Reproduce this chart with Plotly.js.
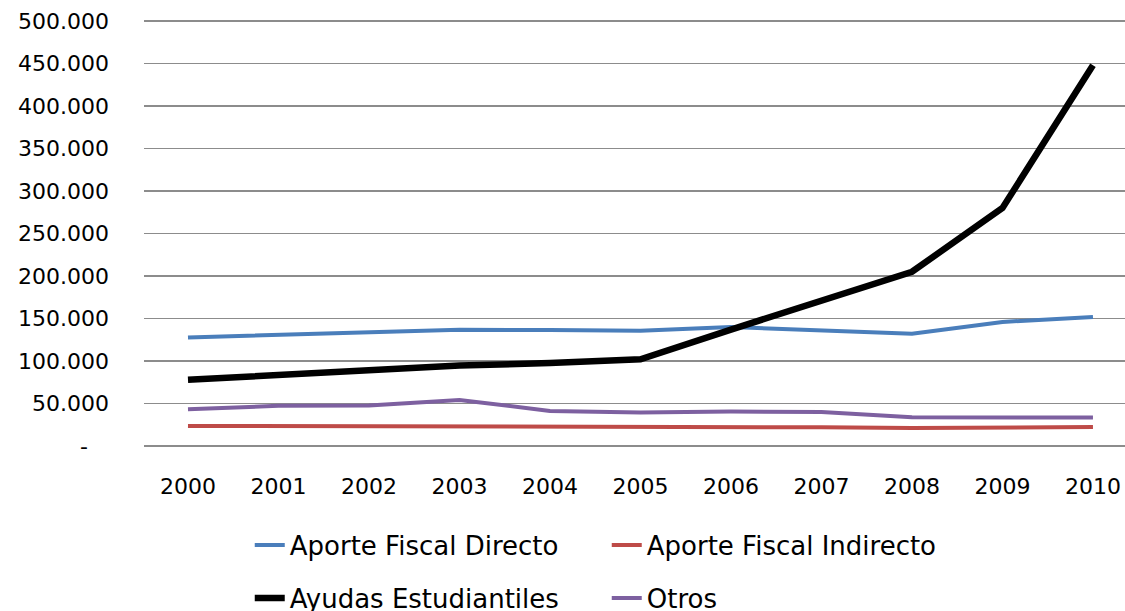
<!DOCTYPE html>
<html>
<head>
<meta charset="utf-8">
<script src="https://cdn.plot.ly/plotly-3.0.1.min.js"></script>
<style>html,body{margin:0;padding:0;background:#fff;}#chart{width:1125px;height:611px;}</style>
</head>
<body>
<div id="chart"></div>
<script>
var years = [2000, 2001, 2002, 2003, 2004, 2005, 2006, 2007, 2008, 2009, 2010];
var aporteFiscalDirecto = [127700, 130500, 134000, 136800, 136400, 135600, 140000, 136000, 132000, 145900, 151800];
var aporteFiscalIndirecto = [23600, 23500, 23500, 23500, 23000, 22800, 23200, 22000, 21200, 22200, 22300];
var ayudasEstudiantiles = [77800, 83700, 89600, 94700, 97500, 102000, 137000, 172000, 205000, 280000, 448000];
var otros = [43300, 47200, 47500, 54200, 41300, 39500, 40500, 40000, 33800, 33800, 33500];
var yTickVals = [0, 50000, 100000, 150000, 200000, 250000, 300000, 350000, 400000, 450000, 500000];
var yTickText = ["-\u00a0\u00a0\u00a0", "50.000", "100.000", "150.000", "200.000", "250.000", "300.000", "350.000", "400.000", "450.000", "500.000"];

var font = "DejaVu Sans, Verdana, sans-serif";
var traces = [
  {x: years, y: aporteFiscalDirecto, name: "Aporte Fiscal Directo", mode: "lines", line: {color: "#4a7ebb", width: 4}, legend: "legend"},
  {x: years, y: aporteFiscalIndirecto, name: "Aporte Fiscal Indirecto", mode: "lines", line: {color: "#be4b48", width: 4}, legend: "legend"},
  {x: years, y: ayudasEstudiantiles, name: "Ayudas Estudiantiles", mode: "lines", line: {color: "#000000", width: 6.5}, legend: "legend2"},
  {x: years, y: otros, name: "Otros", mode: "lines", line: {color: "#7d60a0", width: 4}, legend: "legend2"}
];
var legendCommon = {orientation: "h", xanchor: "left", yanchor: "middle", xref: "container", yref: "container",
  entrywidth: 312, entrywidthmode: "pixels",
  font: {family: font, size: 26, color: "#000"}, bgcolor: "rgba(0,0,0,0)", itemwidth: 30, traceorder: "normal"};
var layout = {
  width: 1125, height: 611,
  margin: {l: 144, r: 0, t: 20, b: 164},
  paper_bgcolor: "#fff", plot_bgcolor: "#fff",
  font: {family: font, size: 22, color: "#000"},
  showlegend: true,
  legend: Object.assign({x: 0.222, y: 1 - 545 / 611}, legendCommon),
  legend2: Object.assign({x: 0.222, y: 1 - 598 / 611}, legendCommon),
  xaxis: {range: [1999.514, 2010.354], tickvals: years, ticktext: years.map(String), showgrid: false, zeroline: false,
    showline: false, ticks: "", ticklabelstandoff: 24, tickfont: {family: font, size: 22, color: "#000"}},
  yaxis: {range: [-1200, 501200], tickvals: yTickVals, ticktext: yTickText, showgrid: true, gridcolor: "#8c8c8c", gridwidth: 1.5,
    zeroline: false, showline: false, ticks: "", ticklabelstandoff: 34, tickfont: {family: font, size: 22, color: "#000"}}
};
Plotly.newPlot("chart", traces, layout, {displayModeBar: false, staticPlot: true});
</script>
</body>
</html>
